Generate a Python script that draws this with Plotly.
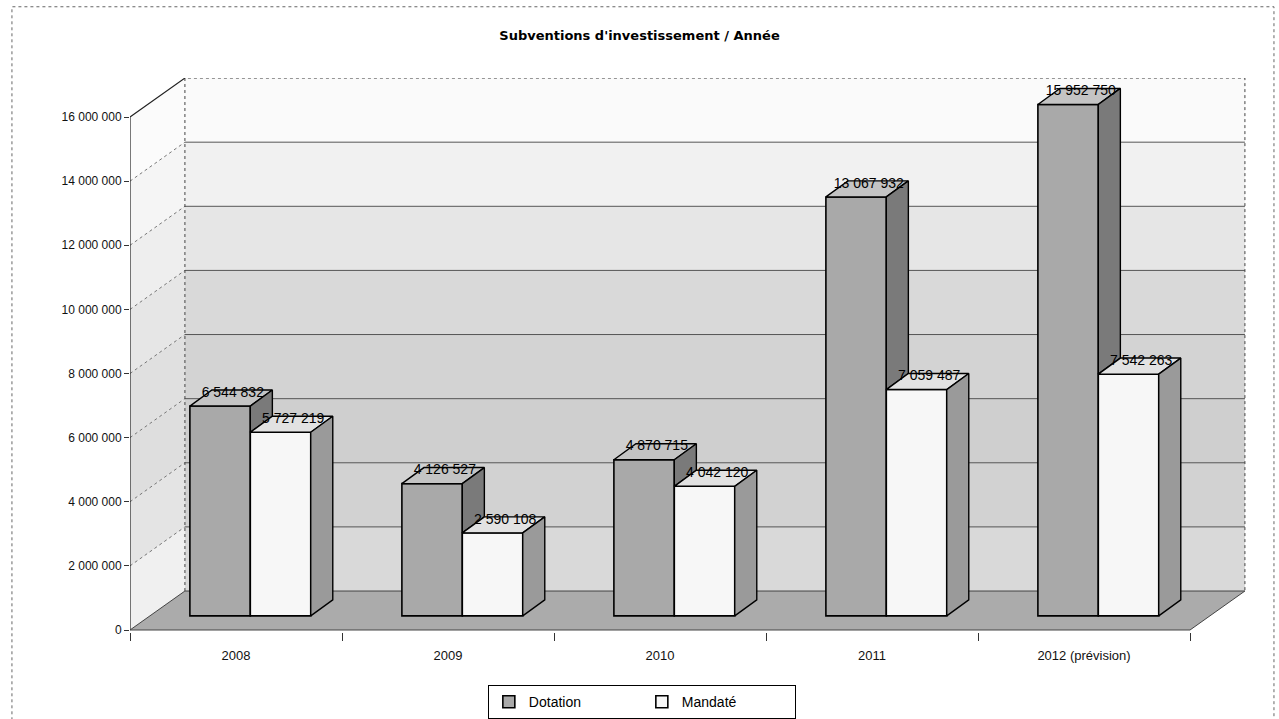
import plotly.graph_objects as go

# ---- data ----
years = ["2008", "2009", "2010", "2011", "2012 (prévision)"]
dotation = [6544832, 4126527, 4870715, 13067932, 15952750]
mandate = [5727219, 2590108, 4042120, 7059487, 7542263]
y_ticks = [0, 2000000, 4000000, 6000000, 8000000, 10000000, 12000000, 14000000, 16000000]
title_text = "Subventions d'investissement / Année"

# ---- 3D look parameters (axis units) ----
M = 1e6
BASE = 0.44 * M          # bars set back from the front floor edge
BDX, BDY = 0.104, 0.5 * M  # bar depth offset
WDX, WDY = 0.259, 1.216 * M  # wall depth offset
W = 0.285
OFF_D, OFF_M = -0.075, 0.21
XL, XR = -0.5, len(years) - 0.5

fig = go.Figure()

# front faces as bars
xs = list(range(len(years)))
fig.add_trace(go.Bar(x=[i + OFF_D for i in xs], y=dotation, base=[BASE] * len(xs), width=W,
                     name="Dotation", marker=dict(color="#a9a9a9", line=dict(color="black", width=1.6)),
                     hoverinfo="skip"))
fig.add_trace(go.Bar(x=[i + OFF_M for i in xs], y=mandate, base=[BASE] * len(xs), width=W,
                     name="Mandaté", marker=dict(color="#f7f7f7", line=dict(color="black", width=1.6)),
                     hoverinfo="skip"))


def poly_trace(px, py, color):
    return go.Scatter(x=px, y=py, mode="lines", fill="toself", fillcolor=color,
                      line=dict(color="black", width=1.4), showlegend=False, hoverinfo="skip")


dt_x, dt_y, ds_x, ds_y, mt_x, mt_y, ms_x, ms_y = [], [], [], [], [], [], [], []
for i, (v, m) in enumerate(zip(dotation, mandate)):
    x0 = i + OFF_D - W / 2
    x1 = i + OFF_D + W / 2
    x2 = i + OFF_M + W / 2
    tv, tm = BASE + v, BASE + m
    dt_x += [x0, x0 + BDX, x1 + BDX, x1, x0, None]
    dt_y += [tv, tv + BDY, tv + BDY, tv, tv, None]
    ds_x += [x1, x1, x1 + BDX, x1 + BDX, x1, None]
    ds_y += [tm, tv, tv + BDY, tm + BDY, tm, None]
    mt_x += [x1, x1 + BDX, x2 + BDX, x2, x1, None]
    mt_y += [tm, tm + BDY, tm + BDY, tm, tm, None]
    ms_x += [x2, x2, x2 + BDX, x2 + BDX, x2, None]
    ms_y += [BASE, tm, tm + BDY, BASE + BDY, BASE, None]

fig.add_trace(poly_trace(dt_x, dt_y, "#c4c4c4"))
fig.add_trace(poly_trace(ds_x, ds_y, "#7a7a7a"))
fig.add_trace(poly_trace(mt_x, mt_y, "#e2e2e2"))
fig.add_trace(poly_trace(ms_x, ms_y, "#9a9a9a"))


def fmt(v):
    return f"{v:,}".replace(",", " ")


label_font = dict(family="Liberation Sans, Arial", size=14, color="black")
fig.add_trace(go.Scatter(x=[i + OFF_D + 0.06 for i in xs], y=[BASE + v + 0.4 * M for v in dotation],
                         mode="text", text=[fmt(v) for v in dotation], textposition="middle center",
                         textfont=label_font, showlegend=False, hoverinfo="skip"))
fig.add_trace(go.Scatter(x=[i + OFF_M + 0.06 for i in xs], y=[BASE + m + 0.4 * M for m in mandate],
                         mode="text", text=[fmt(m) for m in mandate], textposition="middle center",
                         textfont=label_font, showlegend=False, hoverinfo="skip"))

# ---- walls, floor, gridlines (shapes) ----
shapes = []
band_cols = ["#d9d9d9", "#d2d2d2", "#cfcfcf", "#d3d3d3", "#d9d9d9", "#e6e6e6", "#f1f1f1", "#fafafa"]
left_cols = ["#f0f0f0", "#e4e4e4", "#dedede", "#e0e0e0", "#e6e6e6", "#eeeeee", "#f5f5f5", "#fbfbfb"]
for k in range(len(y_ticks) - 1):
    a, b = y_ticks[k], y_ticks[k + 1]
    shapes.append(dict(type="rect", xref="x", yref="y", x0=XL + WDX, x1=XR + WDX, y0=a + WDY, y1=b + WDY,
                       fillcolor=band_cols[k], line=dict(width=0), layer="below"))
    shapes.append(dict(type="path", xref="x", yref="y",
                       path=f"M {XL},{a} L {XL},{b} L {XL + WDX},{b + WDY} L {XL + WDX},{a + WDY} Z",
                       fillcolor=left_cols[k], line=dict(width=0), layer="below"))
for t in y_ticks[1:-1]:
    shapes.append(dict(type="line", xref="x", yref="y", x0=XL + WDX, x1=XR + WDX, y0=t + WDY, y1=t + WDY,
                       line=dict(color="#555555", width=1), layer="below"))
    shapes.append(dict(type="line", xref="x", yref="y", x0=XL, x1=XL + WDX, y0=t, y1=t + WDY,
                       line=dict(color="#777777", width=1, dash="dot"), layer="below"))
top = y_ticks[-1]
# back wall outline
shapes.append(dict(type="path", xref="x", yref="y",
                   path=f"M {XL + WDX},{WDY} L {XL + WDX},{top + WDY} L {XR + WDX},{top + WDY} L {XR + WDX},{WDY}",
                   line=dict(color="#444444", width=1, dash="dot"), layer="below"))
# left wall outline
shapes.append(dict(type="path", xref="x", yref="y",
                   path=f"M {XL},{0} L {XL},{top} L {XL + WDX},{top + WDY}",
                   line=dict(color="#222222", width=1.2), layer="below"))
# floor
shapes.append(dict(type="path", xref="x", yref="y",
                   path=f"M {XL},{0} L {XR},{0} L {XR + WDX},{WDY} L {XL + WDX},{WDY} Z",
                   fillcolor="#ababab", line=dict(color="#444444", width=1), layer="below"))
# outer border
shapes.append(dict(type="rect", xref="paper", yref="paper", x0=-0.1054, x1=1.0214, y0=-0.17, y1=1.1286,
                   line=dict(color="#666666", width=1, dash="dot"), fillcolor="rgba(0,0,0,0)"))

fig.update_layout(
    width=1279, height=719,
    margin=dict(l=130, r=29, t=78, b=87, autoexpand=False),
    paper_bgcolor="white", plot_bgcolor="white",
    separators=", ",
    barmode="overlay",
    shapes=shapes,
    font=dict(family="Liberation Sans, Arial", color="#111111"),
    title=dict(text=title_text, x=0.5, xref="container", xanchor="center",
               y=1 - 35 / 719, yref="container", yanchor="middle",
               font=dict(family="DejaVu Sans", size=13, color="black", weight="bold")),
    showlegend=True,
    legend=dict(orientation="h", x=0.457, xanchor="center", y=-0.096, yanchor="top",
                bordercolor="black", borderwidth=1, bgcolor="white",
                font=dict(size=14, family="Liberation Sans, Arial", color="black"),
                entrywidth=108, entrywidthmode="pixels", itemwidth=30,
                traceorder="normal"),
    xaxis=dict(range=[XL, XL + 1120 / 212], tickmode="array", tickvals=xs, ticktext=years,
               showgrid=False, zeroline=False, showline=False, ticks="",
               tickfont=dict(size=13, color="#111111"), ticklabelstandoff=14,
               minor=dict(tickmode="array", tickvals=[i - 0.5 for i in range(len(years) + 1)],
                          ticks="outside", ticklen=8, tickcolor="#333333", showgrid=False)),
    yaxis=dict(range=[-0.0624 * M, 17.218 * M], tickmode="array", tickvals=y_ticks,
               tickformat=",d", showgrid=False, zeroline=False, showline=False,
               ticks="outside", ticklen=5, tickcolor="#333333",
               tickfont=dict(size=12, color="#111111")),
)

fig.write_html("out.html")
